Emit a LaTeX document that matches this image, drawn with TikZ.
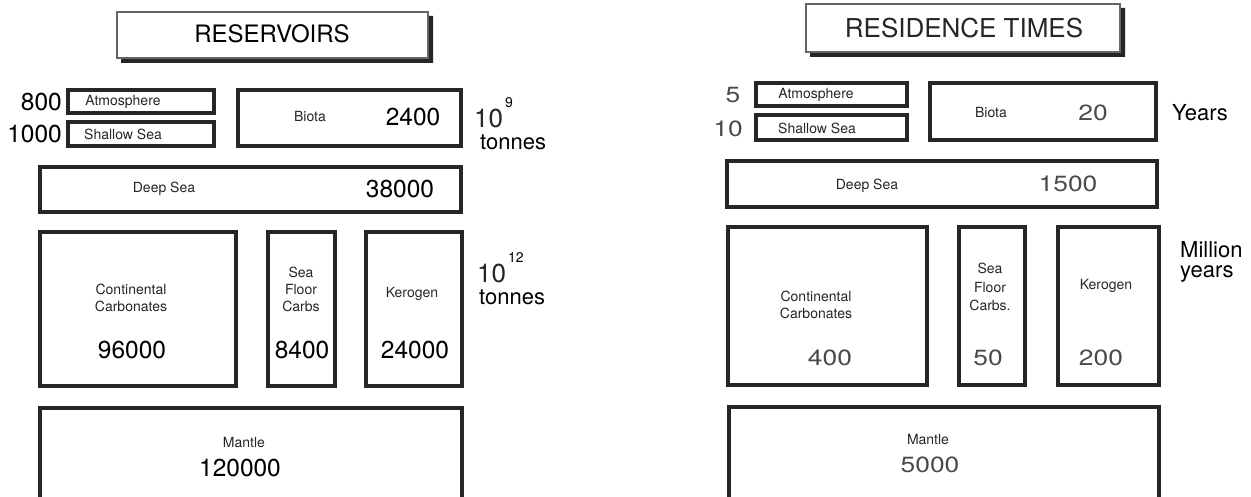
\documentclass[tikz,border=0pt]{standalone}
\usepackage{fontspec}
\setmainfont{TeX Gyre Heros}
\usetikzlibrary{fit}
\definecolor{ink}{HTML}{262626}
\definecolor{lite}{HTML}{4A4A4A}
\tikzset{
  box/.style={draw=ink, line width=3.1pt, fill=white, inner sep=0pt, outer sep=0pt},
  tbox/.style={draw=black!60, line width=1.4pt, fill=white, inner sep=0pt, outer sep=0pt},
  shade/.style={fill=ink},
  lbl/.style={inner sep=0pt, text=ink, font=\fontsize{14}{17}\selectfont, align=center},
  numL/.style={inner sep=0pt, text=black, font=\fontsize{24.5}{28}\selectfont},
  numR/.style={inner sep=0pt, text=lite, font=\fontsize{22}{26}\selectfont, xscale=1.2},
  unit/.style={inner sep=0pt, text=black, font=\fontsize{22}{22}\selectfont, align=left},
  ten/.style={inner sep=0pt, text=black!85, font=\fontsize{26}{26}\selectfont},
  sup/.style={inner sep=0pt, text=black, font=\fontsize{14}{14}\selectfont},
  ttl/.style={inner sep=0pt, text=black, font=\fontsize{24}{26}\selectfont},
}
\begin{document}
\begin{tikzpicture}[x=1pt,y=-1pt]
\useasboundingbox[fill=white] (0,0) rectangle (1251,497);

% ---------------- LEFT: RESERVOIRS ----------------
\coordinate (tLa) at (117,12);
\coordinate (tLb) at (428,58);
\node[fit=(tLa)(tLb), inner sep=0pt, outer sep=0pt] (tLf) {};
\fill[shade] ([xshift=4pt]tLf.south west) -- ([xshift=4pt,yshift=-5pt]tLf.south west)
  -- ([xshift=5pt,yshift=-5pt]tLf.south east) -- ([xshift=5pt,yshift=-4pt]tLf.north east)
  -- ([yshift=-4pt]tLf.north east) -- (tLf.south east) -- cycle;
\node[tbox, fit=(tLa)(tLb)] (titleL) {};
\node[ttl] (titleLt) at (272,34) {RESERVOIRS};

\node[box, fit={(68,90)(214,113)}] (atmL) {};
\node[lbl] (atmLt) at (123,102) {Atmosphere};
\node[box, fit={(68,122)(214,146)}] (shL) {};
\node[lbl] (shLt) at (123,134) {Shallow Sea};
\node[numL, anchor=east] (n800) at (62,102) {800};
\node[numL, anchor=east] (n1000) at (62,134) {1000};

\node[box, fit={(238,90)(461,146)}] (biL) {};
\node[lbl] (biLt) at (310,117) {Biota};
\node[numL] (n2400) at (413,117) {2400};

\node[ten, anchor=west] (u10a) at (474,118) {10};
\node[sup, anchor=west] (u9) at (505,103) {9};
\node[unit, anchor=west] (uta) at (480,142) {tonnes};

\node[box, fit={(40,167)(461,212)}] (dsL) {};
\node[lbl] (dsLt) at (164,189) {Deep Sea};
\node[numL] (n38000) at (400,189) {38000};

\node[box, fit={(40,232)(236,386)}] (ccL) {};
\node[lbl] (ccLt) at (131,297.5) {Continental\\Carbonates};
\node[numL] (n96000) at (132,350) {96000};

\node[box, fit={(268,232)(335,386)}] (sfL) {};
\node[lbl] (sfLt) at (301,289) {Sea\\Floor\\Carbs};
\node[numL] (n8400) at (302,350) {8400};

\node[box, fit={(366,232)(462,386)}] (kgL) {};
\node[lbl] (kgLt) at (412,294) {Kerogen};
\node[numL] (n24000) at (415,350) {24000};

\node[ten, anchor=west] (u10b) at (477,273) {10};
\node[sup, anchor=west] (u12) at (508,258) {12};
\node[unit, anchor=west] (utb) at (479,297) {tonnes};

\node[box, fit={(40,408)(462,499)}] (mnL) {};
\node[lbl] (mnLt) at (244,443) {Mantle};
\node[numL] (n120000) at (240,468) {120000};

% ---------------- RIGHT: RESIDENCE TIMES ----------------
\coordinate (tRa) at (806,4);
\coordinate (tRb) at (1120,52);
\node[fit=(tRa)(tRb), inner sep=0pt, outer sep=0pt] (tRf) {};
\fill[shade] ([xshift=4pt]tRf.south west) -- ([xshift=4pt,yshift=-5pt]tRf.south west)
  -- ([xshift=5pt,yshift=-5pt]tRf.south east) -- ([xshift=5pt,yshift=-4pt]tRf.north east)
  -- ([yshift=-4pt]tRf.north east) -- (tRf.south east) -- cycle;
\node[tbox, fit=(tRa)(tRb)] (titleR) {};
\node[ttl, text=black!85, font=\fontsize{26}{28}\selectfont] (titleRt) at (964,28) {RESIDENCE TIMES};

\node[box, fit={(756,83)(907,106)}] (atmR) {};
\node[lbl] (atmRt) at (816,95) {Atmosphere};
\node[box, fit={(756,115)(907,140)}] (shR) {};
\node[lbl] (shRt) at (817,128) {Shallow Sea};
\node[numR] (n5) at (733,95) {5};
\node[numR, anchor=east] (n10) at (743,129) {10};

\node[box, fit={(930,83)(1156,140)}] (biR) {};
\node[lbl] (biRt) at (991,113) {Biota};
\node[numR] (n20) at (1093,113) {20};
\node[unit, anchor=west] (uyr) at (1172,113) {Years};

\node[box, fit={(727,161)(1157,207)}] (dsR) {};
\node[lbl] (dsRt) at (867,186) {Deep Sea};
\node[numR] (n1500) at (1068,184) {1500};

\node[box, fit={(728,227)(927,385)}] (ccR) {};
\node[lbl] (ccRt) at (816,305) {Continental\\Carbonates};
\node[numR] (n400) at (830,358) {400};

\node[box, fit={(959,227)(1025,385)}] (sfR) {};
\node[lbl, font=\fontsize{14}{18.5}\selectfont] (sfRt) at (990,287) {Sea\\Floor\\Carbs.};
\node[numR] (n50) at (988,358) {50};

\node[box, fit={(1058,227)(1159,385)}] (kgR) {};
\node[lbl] (kgRt) at (1106,286) {Kerogen};
\node[numR] (n200) at (1101,358) {200};

\node[unit, anchor=west, font=\fontsize{22}{20}\selectfont] (umy) at (1180,262) {Million\\years};

\node[box, fit={(729,407)(1159,499)}] (mnR) {};
\node[lbl] (mnRt) at (928,440) {Mantle};
\node[numR] (n5000) at (930,465) {5000};
\end{tikzpicture}
\end{document}
